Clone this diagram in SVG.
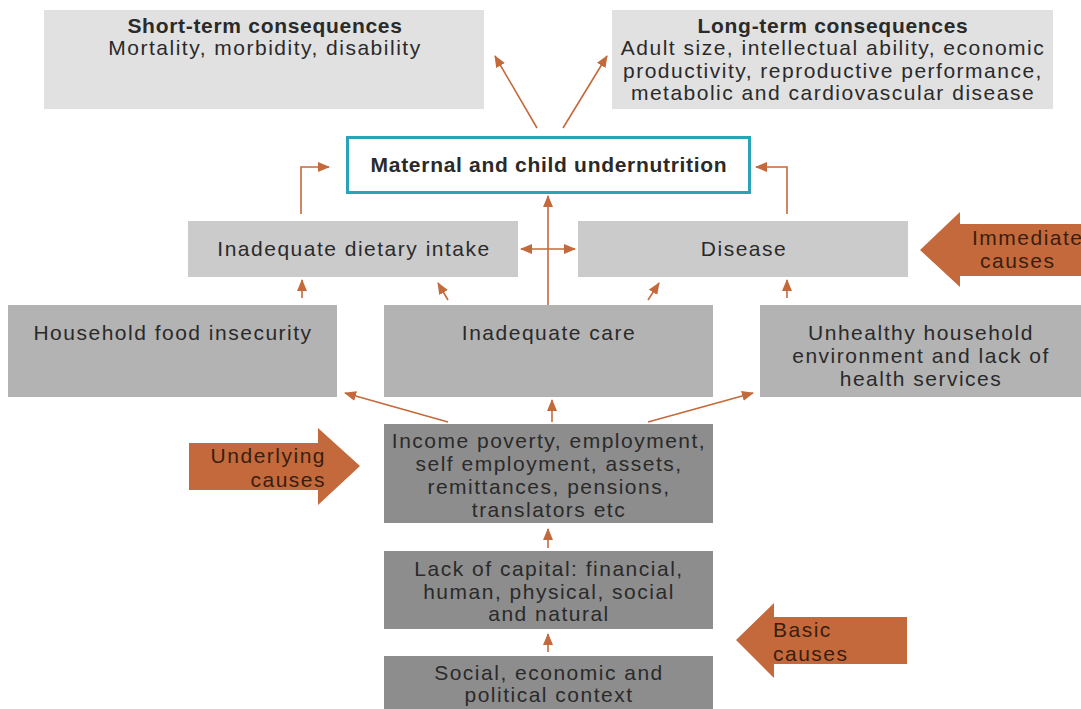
<svg xmlns="http://www.w3.org/2000/svg" width="1081" height="709" viewBox="0 0 1081 709">
  <defs>
    <marker id="head" viewBox="0 0 12 10" refX="11" refY="5" markerWidth="12" markerHeight="10" markerUnits="userSpaceOnUse" orient="auto-start-reverse">
      <path d="M0,0 L12,5 L0,10 Z" fill="#c4693b"/>
    </marker>
    <style>
      text { font-family: "Liberation Sans", Arial, sans-serif; font-size: 21px; letter-spacing: 1.5px; fill: #2a2a2a; text-anchor: middle; }
      .b { font-weight: bold; letter-spacing: 0.7px; }
      .lab { fill: #3a1e10; }
      .c1 { fill: #e1e1e1; }
      .c2 { fill: #cbcbcb; }
      .c3 { fill: #b3b3b3; }
      .c4 { fill: #8d8d8d; }
      .big { fill: #c4693b; }
      .link { fill: none; stroke: #c4693b; stroke-width: 1.6; marker-end: url(#head); }
    </style>
  </defs>
  <rect width="1081" height="709" fill="#ffffff"/>

  <!-- consequences -->
  <g id="short-term">
    <rect class="c1" x="44" y="10" width="440" height="99"/>
    <text class="b" x="265" y="33">Short-term consequences</text>
    <text x="265" y="55">Mortality, morbidity, disability</text>
  </g>
  <g id="long-term">
    <rect class="c1" x="612" y="10" width="441" height="99"/>
    <text class="b" x="833" y="33">Long-term consequences</text>
    <text x="833" y="55">Adult size, intellectual ability, economic</text>
    <text x="833" y="78">productivity, reproductive performance,</text>
    <text x="833" y="100">metabolic and cardiovascular disease</text>
  </g>

  <!-- outcome -->
  <g id="undernutrition">
    <rect x="347.5" y="137.5" width="402" height="55" fill="#ffffff" stroke="#2ba2ba" stroke-width="3"/>
    <text class="b" x="549" y="172">Maternal and child undernutrition</text>
  </g>

  <!-- immediate causes -->
  <g id="dietary-intake">
    <rect class="c2" x="188" y="221" width="330" height="56"/>
    <text x="354" y="256">Inadequate dietary intake</text>
  </g>
  <g id="disease">
    <rect class="c2" x="578" y="221" width="330" height="56"/>
    <text x="744" y="256">Disease</text>
  </g>

  <!-- underlying causes -->
  <g id="food-insecurity">
    <rect class="c3" x="8" y="305" width="329" height="92"/>
    <text x="173" y="340">Household food insecurity</text>
  </g>
  <g id="inadequate-care">
    <rect class="c3" x="384" y="305" width="329" height="92"/>
    <text x="549" y="340">Inadequate care</text>
  </g>
  <g id="household-environment">
    <rect class="c3" x="760" y="305" width="321" height="92"/>
    <text x="921" y="340">Unhealthy household</text>
    <text x="921" y="363">environment and lack of</text>
    <text x="921" y="386">health services</text>
  </g>
  <g id="income">
    <rect class="c4" x="384" y="424" width="329" height="99"/>
    <text x="549" y="448">Income poverty, employment,</text>
    <text x="549" y="471">self employment, assets,</text>
    <text x="549" y="494">remittances, pensions,</text>
    <text x="549" y="517">translators etc</text>
  </g>

  <!-- basic causes -->
  <g id="capital">
    <rect class="c4" x="384" y="551" width="329" height="78"/>
    <text x="549" y="576">Lack of capital: financial,</text>
    <text x="549" y="599">human, physical, social</text>
    <text x="549" y="621">and natural</text>
  </g>
  <g id="context">
    <rect class="c4" x="384" y="656" width="329" height="53"/>
    <text x="549" y="680">Social, economic and</text>
    <text x="549" y="702">political context</text>
  </g>

  <!-- level labels -->
  <g id="label-immediate">
    <path class="big" d="M920,250 L960,212 L960,224 L1081,224 L1081,276 L960,276 L960,287 Z"/>
    <text class="lab" x="972" y="245" style="text-anchor:start">Immediate</text>
    <text class="lab" x="980" y="268" style="text-anchor:start">causes</text>
  </g>
  <g id="label-underlying">
    <path class="big" d="M189,443 L318,443 L318,428 L360,466 L318,505 L318,490 L189,490 Z"/>
    <text class="lab" x="326" y="463" style="text-anchor:end">Underlying</text>
    <text class="lab" x="326" y="487" style="text-anchor:end">causes</text>
  </g>
  <g id="label-basic">
    <path class="big" d="M736,640 L774,603 L774,617 L907,617 L907,664 L774,664 L774,678 Z"/>
    <text class="lab" x="773" y="637" style="text-anchor:start">Basic</text>
    <text class="lab" x="773" y="661" style="text-anchor:start">causes</text>
  </g>

  <!-- connectors -->
  <g id="connectors">
    <path class="link" d="M537,128 L495,56"/>
    <path class="link" d="M563,128 L607,56"/>
    <path class="link" d="M301,214 L301,167 L329,167"/>
    <path class="link" d="M787,214 L787,167 L756,167"/>
    <path class="link" d="M548,305 L548,196"/>
    <path class="link" d="M521,249 L575,249" style="marker-start:url(#head)"/>
    <path class="link" d="M302,298 L302,280"/>
    <path class="link" d="M448,300 L438,283"/>
    <path class="link" d="M648,300 L659,283"/>
    <path class="link" d="M787,298 L787,280"/>
    <path class="link" d="M448,422 L345,393"/>
    <path class="link" d="M552,422 L552,400"/>
    <path class="link" d="M648,422 L753,393"/>
    <path class="link" d="M548,548 L548,529"/>
    <path class="link" d="M548,652 L548,634"/>
  </g>
</svg>
